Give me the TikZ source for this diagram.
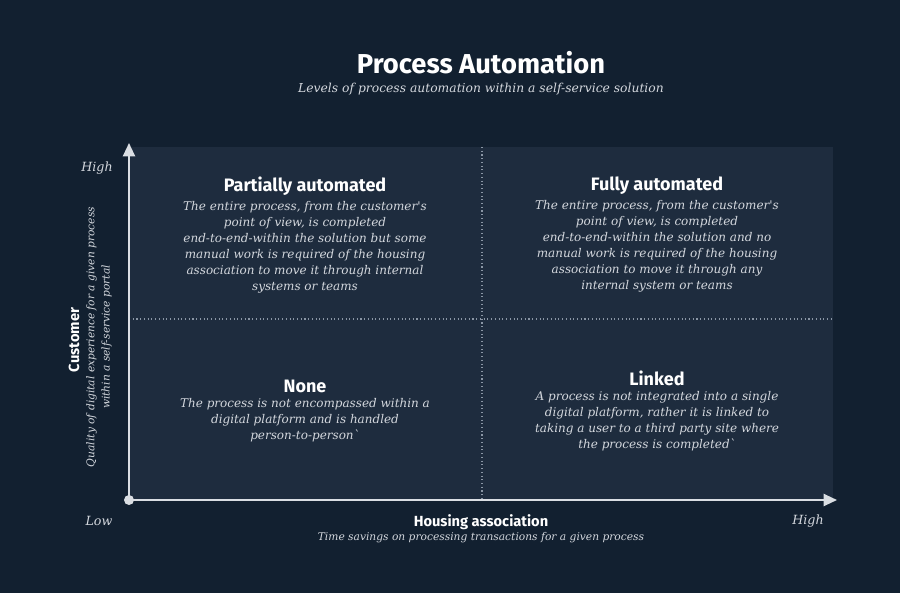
\documentclass[tikz,border=0pt]{standalone}
\usepackage{fontspec}
\setmainfont{DejaVu Serif}
\setsansfont{Fira Sans}
\newfontfamily\headfont{Fira Sans}[UprightFont=* Bold]
\newfontfamily\bodyit{DejaVu Serif}[UprightFont=* Italic, Ligatures=TeXOff]
\usetikzlibrary{arrows.meta, positioning}
\definecolor{bgNavy}{HTML}{122030}
\definecolor{panelNavy}{HTML}{1E2C3E}
\definecolor{axisGray}{HTML}{DADEE3}
\definecolor{textLight}{HTML}{D3D7DD}
\definecolor{gridGray}{HTML}{8A96A5}
\tikzset{
  axisArrow/.style={-{Triangle[length=10pt, width=9pt]}, axisGray, line width=1.6pt},
  gridDot/.style={gridGray, dotted, line width=0.8pt},
  headA/.style={text=white, font=\headfont\fontsize{13.5}{15}\selectfont, inner sep=0pt},
  bodyA/.style={text=textLight, align=center, inner sep=0pt,
                font=\bodyit\fontsize{9}{12}\selectfont},
  axisEnd/.style={text=textLight, font=\bodyit\fontsize{9.5}{12}\selectfont, inner sep=0pt},
}

\begin{document}
\begin{tikzpicture}[x=0.75pt, y=-0.75pt]
    \fill[bgNavy] (0,0) rectangle (900,593);
    \useasboundingbox (0,0) rectangle (900,593);
    \fill[panelNavy] (129,147) rectangle (833,500);

    % title
    \node[text=white, font=\headfont\fontsize{20.5}{24}\selectfont, inner sep=0pt]
          (title) at (481,63) {Process Automation};
    \node[bodyA, font=\bodyit\fontsize{9.25}{12}\selectfont, below=6pt of title]
          (subtitle) {Levels of process automation within a self-service solution};

    % grid and axes
    \coordinate (origin) at (129,500);
    \coordinate (ytop) at (129,143);
    \coordinate (xend) at (837,500);
    \coordinate (midtop) at (482,147);
    \coordinate (midbot) at (482,500);
    \coordinate (midleft) at (129,319);
    \coordinate (midright) at (833,319);
    \draw[gridDot] (midtop) -- (midbot);
    \draw[gridDot] (midleft) -- (midright);
    \draw[axisArrow] (origin) -- (ytop);
    \draw[axisArrow] (origin) -- (xend);
    \fill[axisGray] (origin) circle (5);

    % quadrants
    \node[headA] (partial) at (305,186) {Partially automated};
    \node[bodyA, below=4pt of partial] (partialtxt)
          {The entire process, from the customer's\\point of view, is completed\\
           end-to-end-within the solution but some\\manual work is required of the housing\\
           association to move it through internal\\systems or teams};
    \node[headA] (full) at (657,186) {Fully automated};
    \node[bodyA, below=4pt of full] (fulltxt)
          {The entire process, from the customer's\\point of view, is completed\\
           end-to-end-within the solution and no\\manual work is required of the housing\\
           association to move it through any\\internal system or teams};
    \node[headA] (none) at (305,386) {None};
    \node[bodyA, below=4pt of none] (nonetxt)
          {The process is not encompassed within a\\digital platform and is handled\\
           person-to-person`};
    \node[headA] (linked) at (657,378) {Linked};
    \node[bodyA, below=4pt of linked] (linkedtxt)
          {A process is not integrated into a single\\digital platform, rather it is linked to\\
           taking a user to a third party site where\\the process is completed`};

    % axis labels
    \node[axisEnd] (yhigh) at (97,168) {High};
    \node[axisEnd] (xlow) at (99,521) {Low};
    \node[axisEnd] (xhigh) at (808,521) {High};
    \node[text=white, font=\headfont\fontsize{11}{13}\selectfont, inner sep=0pt]
          (xlabel) at (481,522) {Housing association};
    \node[text=textLight, font=\bodyit\fontsize{8}{10}\selectfont, inner sep=0pt]
          (xsub) at (481,538) {Time savings on processing transactions for a given process};
    \node[text=white, rotate=90, font=\headfont\fontsize{11}{13}\selectfont, inner sep=0pt]
          (ylabel) at (74,340) {Customer};
    \node[bodyA, rotate=90, font=\bodyit\fontsize{8}{11.5}\selectfont]
          (ysub) at (99,337) {Quality of digital experience for a given process\\within a self-service portal};
\end{tikzpicture}
\end{document}
